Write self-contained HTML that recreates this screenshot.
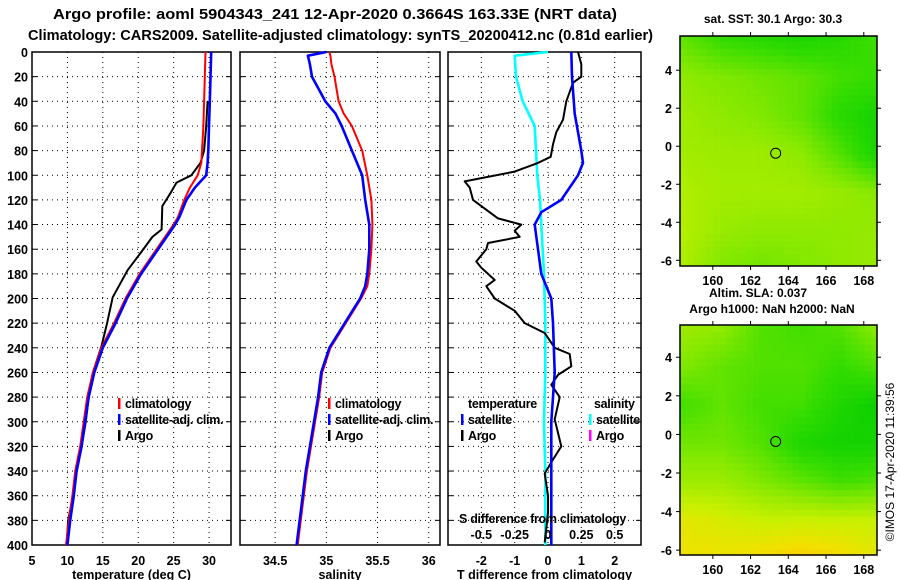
<!DOCTYPE html>
<html><head><meta charset="utf-8">
<style>
html,body{margin:0;padding:0;background:#fff;}
svg{display:block;font-family:"Liberation Sans",Arial,sans-serif;font-weight:bold;}
</style></head>
<body>
<svg id="fig" width="900" height="580" viewBox="0 0 900 580" xmlns="http://www.w3.org/2000/svg">
<text x="53" y="19" font-size="14.5" textLength="564" lengthAdjust="spacingAndGlyphs">Argo profile: aoml 5904343_241 12-Apr-2020 0.3664S 163.33E (NRT data)</text>
<text x="28" y="40" font-size="14.5" textLength="625" lengthAdjust="spacingAndGlyphs">Climatology: CARS2009. Satellite-adjusted climatology: synTS_20200412.nc (0.81d earlier)</text>
<g id="p1"></g>
<g id="p2"></g>
<g id="p3"></g>
<g id="m1"></g>
<g id="m2"></g>
<text x="773" y="23" font-size="12" text-anchor="middle">sat. SST: 30.1 Argo: 30.3</text>
<text x="758" y="297" font-size="12" text-anchor="middle">Altim. SLA: 0.037</text>
<text x="772" y="313" font-size="12" text-anchor="middle">Argo h1000: NaN h2000: NaN</text>
<text transform="translate(894,462) rotate(-90)" font-size="12" font-weight="normal" text-anchor="middle">©IMOS 17-Apr-2020 11:39:56</text>
</svg>
<script>
// ---- data ----
const tClimDepth=[0,20,40,60,80,90,100,110,120,134,140,160,180,200,220,240,260,280,300,320,340,360,380,400];
const tClim=[29.5,29.4,29.3,29.2,29.0,28.9,28.4,27.3,26.5,25.6,25.0,22.6,20.2,18.2,16.6,14.8,13.6,12.8,12.3,11.8,11.1,10.7,10.2,9.8];
const tSat=[30.3,30.2,30.1,30.0,29.9,29.8,29.6,28.0,26.8,25.8,25.2,22.8,20.4,18.4,16.8,15.0,13.8,13.0,12.5,12.0,11.3,10.9,10.4,10.0];
const tArgoDepth=[40,60,80,90,100,106,115,125,144,150,161,177,199,220,239,260,280,300,320,340,360,380,400];
const tArgo=[29.8,29.6,29.3,28.8,27.5,25.4,24.5,23.4,23.3,22.0,20.6,18.5,16.4,15.6,14.8,13.6,13.0,12.6,12.0,11.2,10.8,10.1,9.9];
const sDepth=[0,3,10,20,40,50,60,80,100,120,140,160,180,190,200,220,240,260,280,300,340,400];
const sClim=[35.03,35.04,35.05,35.08,35.12,35.17,35.25,35.35,35.40,35.44,35.45,35.44,35.42,35.40,35.34,35.19,35.04,34.96,34.93,34.89,34.81,34.72];
const sSat=[35.0,34.82,34.84,34.86,34.99,35.09,35.15,35.25,35.35,35.38,35.42,35.42,35.40,35.38,35.33,35.18,35.03,34.95,34.92,34.88,34.80,34.71];
const dArgoDepth=[0,10,20,25,40,55,65,75,85,90,97,105,110,120,125,135,140,145,150,155,160,170,175,185,190,200,210,220,228,240,245,255,262,270,280,298,320,331,342,360,374,398];
const dArgoT=[0.9,1.0,1.0,0.75,0.55,0.45,0.25,0.15,0.08,-0.3,-1.0,-2.5,-2.35,-2.25,-2.0,-1.5,-0.8,-1.0,-0.85,-1.8,-1.85,-2.15,-2.0,-1.6,-1.85,-1.6,-1.0,-0.7,-0.1,0.2,0.65,0.7,0.3,0.1,0.35,0.2,0.4,0.14,-0.1,0.0,0.0,-0.1];
const dSatDepth=[0,20,50,80,90,100,120,130,140,160,180,200,220,260,300,340,400];
const dSatT=[0.7,0.72,0.8,1.0,1.05,0.9,0.4,-0.2,-0.4,-0.3,-0.2,0.1,0.15,0.2,0.1,0.1,0.1];
const dSatSDepth=[0,3,20,40,60,80,100,120,140,180,220,260,300,340,400];
const dSatS=[0,-0.25,-0.24,-0.19,-0.1,-0.09,-0.08,-0.06,-0.05,-0.03,-0.02,-0.02,-0.03,-0.02,-0.02];
const depthTicks=[0,20,40,60,80,100,120,140,160,180,200,220,240,260,280,300,320,340,360,380,400];
const tTicks=[5,10,15,20,25,30];
const sTicks=[34.5,35,35.5,36];
const dTicks=[-2,-1,0,1,2];
const dTickLabels=["-2","-1","0","1","2"];
const sDiffTicks=[-0.5,-0.25,0,0.25,0.5];
const sDiffLabels=["-0.5","-0.25","0","0.25","0.5"];
const lonTicks=[160,162,164,166,168];
const latTicks=[4,2,0,-2,-4,-6];
const sstField=[[0.4,0.25,0.2,0.15,0.2,0.3],[0.55,0.5,0.45,0.4,0.3,0.25],[0.6,0.55,0.5,0.4,0.2,0.1],[0.62,0.6,0.6,0.55,0.35,0.1],[0.66,0.62,0.62,0.62,0.58,0.52],[0.68,0.58,0.55,0.55,0.55,0.58],[0.65,0.5,0.45,0.5,0.55,0.58]];
const slaField=[[0.6,0.55,0.35,0.3,0.35,0.55],[0.5,0.4,0.35,0.35,0.25,0.35],[0.3,0.4,0.3,0.3,0.15,0.05],[0.45,0.45,0.35,0.15,0.1,0.1],[0.6,0.6,0.5,0.4,0.3,0.35],[0.85,0.8,0.75,0.75,0.75,0.75],[0.9,0.9,0.95,1.0,0.95,0.85]];
const profileLon=[163.33];
const profileLat=[-0.3664];

const NS="http://www.w3.org/2000/svg";
function mk(tag,attrs,parent){const e=document.createElementNS(NS,tag);for(const k in attrs)e.setAttribute(k,attrs[k]);parent.appendChild(e);return e;}
const Y0=52,Y1=545;
const yD=d=>Y0+d*(Y1-Y0)/400;

function panel(g,x0,x1,v0,v1,xt,xtl,title,showY){
  const xs=v=>x0+(v-v0)*(x1-x0)/(v1-v0);
  depthTicks.forEach((d,i)=>{
    if(i>0&&i<depthTicks.length-1){const l=mk('line',{x1:x0,x2:x1,y1:yD(d),y2:yD(d),stroke:'#000','stroke-width':1,'stroke-dasharray':'1,4'},g);}
    const t1=mk('line',{x1:x0,x2:x0+5,y1:yD(d),y2:yD(d),stroke:'#000'},g);
    const t2=mk('line',{x1:x1-5,x2:x1,y1:yD(d),y2:yD(d),stroke:'#000'},g);
    if(showY){const tx=mk('text',{x:x0-4,y:yD(d)+5,'font-size':12.5,'text-anchor':'end'},g);tx.textContent=d;}
  });
  xt.forEach((v,i)=>{
    const l=mk('line',{x1:xs(v),x2:xs(v),y1:Y0,y2:Y1,stroke:'#000','stroke-width':1,'stroke-dasharray':'1,4'},g);
    const tx=mk('text',{x:xs(v),y:565,'font-size':12.5,'text-anchor':'middle'},g);tx.textContent=xtl[i];
  });
  const r=mk('rect',{x:x0,y:Y0,width:x1-x0,height:Y1-Y0,fill:'none',stroke:'#000','stroke-width':1.5},g);
  const tt=mk('text',{x:(x0+x1)/2,y:579,'font-size':12.5,'text-anchor':'middle'},g);tt.textContent=title;
  return xs;
}
function line(g,xs,vals,depths,color,w,name){
  const pts=vals.map((v,i)=>xs(v).toFixed(1)+','+yD(depths[i]).toFixed(1)).join(' ');
  const p=mk('polyline',{points:pts,fill:'none',stroke:color,'stroke-width':w,'stroke-linejoin':'round'},g);
  
}
function legend(g,x,y,color,label,name){
  const m=mk('rect',{x:x,y:y-10,width:2.5,height:11,fill:color},g);
  const t=mk('text',{x:x+7,y:y,'font-size':12.5,'letter-spacing':'-0.3'},g);t.textContent=label;
}
// panel 1
const g1=document.getElementById('p1');
const xs1=panel(g1,32,231,5,33.1,tTicks,tTicks.map(String),'temperature (deg C)',true);
line(g1,xs1,tArgo,tArgoDepth,'#000',2,'argo-temperature-line');
line(g1,xs1,tClim,tClimDepth,'#f00',2,'climatology-temperature-line');
line(g1,xs1,tSat,tClimDepth,'#00f',2.6,'satellite-temperature-line');
legend(g1,118,408,'#f00','climatology','legend-climatology');
legend(g1,118,424,'#00f','satellite-adj. clim.','legend-satellite');
legend(g1,118,440,'#000','Argo','legend-argo');
// panel 2
const g2=document.getElementById('p2');
const xs2=panel(g2,240,440,34.157,36.11,sTicks,sTicks.map(String),'salinity',false);
line(g2,xs2,sClim,sDepth,'#f00',2,'climatology-salinity-line');
line(g2,xs2,sSat,sDepth,'#00f',2.6,'satellite-salinity-line');
legend(g2,328,408,'#f00','climatology','legend-climatology');
legend(g2,328,424,'#00f','satellite-adj. clim.','legend-satellite');
legend(g2,328,440,'#000','Argo','legend-argo');
// panel 3
const g3=document.getElementById('p3');
const xs3=panel(g3,448,641,-3.0,2.79,dTicks,dTickLabels,'T difference from climatology',false);
line(g3,xs3,dSatS.map(s=>s*4),dSatSDepth,'#0ff',2.6,'satellite-salinity-diff-line');
line(g3,xs3,dArgoT,dArgoDepth,'#000',2,'argo-temperature-diff-line');
line(g3,xs3,dSatT,dSatDepth,'#00f',2.6,'satellite-temperature-diff-line');
(function(){const t=mk('text',{x:468,y:408,'font-size':12.5,'letter-spacing':'-0.3'},g3);t.textContent='temperature';
const t2=mk('text',{x:594,y:408,'font-size':12.5,'letter-spacing':'-0.3'},g3);t2.textContent='salinity';
const t3=mk('text',{x:459,y:523,'font-size':12.5,'letter-spacing':'-0.3'},g3);t3.textContent='S difference from climatology';})();
legend(g3,461,424,'#00f','satellite','legend-t-satellite');
legend(g3,461,440,'#000','Argo','legend-t-argo');
legend(g3,589,424,'#0ff','satellite','legend-s-satellite');
legend(g3,589,440,'#f0f','Argo','legend-s-argo');
sDiffTicks.forEach((v,i)=>{const t=mk('text',{x:xs3(v*4),y:539,'font-size':12.5,'text-anchor':'middle'},g3);t.textContent=sDiffLabels[i];});

// maps
const stops=[[0,[0,204,0]],[0.25,[50,220,0]],[0.5,[128,232,0]],[0.75,[200,240,0]],[0.9,[240,226,0]],[1,[255,204,0]]];
function col(v){v=Math.max(0,Math.min(1,v));for(let i=1;i<stops.length;i++){if(v<=stops[i][0]){const a=stops[i-1],b=stops[i];const f=(v-a[0])/(b[0]-a[0]);return 'rgb('+a[1].map((c,k)=>Math.round(c+(b[1][k]-c)*f)).join(',')+')';}}return 'rgb(255,204,0)';}
function drawMap(g,x0,x1,y0,y1,lat0,lat1,field,cell){
  const lon0=158.26,lon1=168.7;
  const xm=lon=>x0+(lon-lon0)*(x1-x0)/(lon1-lon0);
  const ym=lat=>y0+(lat0-lat)*(y1-y0)/(lat0-lat1);
  const R=field.length,C=field[0].length;
  for(let y=y0;y<y1;y+=cell){for(let x=x0;x<x1;x+=cell){
    const fx=(x-x0)/(x1-x0)*(C-1),fy=(y-y0)/(y1-y0)*(R-1);
    const i=Math.min(R-2,Math.floor(fy)),j=Math.min(C-2,Math.floor(fx));const u=fx-j,w=fy-i;
    const v=field[i][j]*(1-u)*(1-w)+field[i][j+1]*u*(1-w)+field[i+1][j]*(1-u)*w+field[i+1][j+1]*u*w;
    const r=mk('rect',{x:x,y:y,width:Math.min(cell,x1-x)+0.3,height:Math.min(cell,y1-y)+0.3,fill:col(v)},g);
    
  }}
  const f=mk('rect',{x:x0,y:y0,width:x1-x0,height:y1-y0,fill:'none',stroke:'#000','stroke-width':1.5},g);
  lonTicks.forEach(lon=>{
    mk('line',{x1:xm(lon),x2:xm(lon),y1:y0-4,y2:y0,stroke:'#000'},g);
    mk('line',{x1:xm(lon),x2:xm(lon),y1:y1,y2:y1+4,stroke:'#000'},g);
    const t=mk('text',{x:xm(lon),y:y1+19,'font-size':12.5,'text-anchor':'middle'},g);t.textContent=lon;
  });
  latTicks.forEach(lat=>{
    mk('line',{x1:x0-4,x2:x0,y1:ym(lat),y2:ym(lat),stroke:'#000'},g);
    mk('line',{x1:x1,x2:x1+4,y1:ym(lat),y2:ym(lat),stroke:'#000'},g);
    const t=mk('text',{x:x0-8,y:ym(lat)+5,'font-size':12.5,'text-anchor':'end'},g);t.textContent=lat;
  });
  const c=mk('circle',{cx:xm(profileLon[0]),cy:ym(profileLat[0]),r:5,fill:'none',stroke:'#000','stroke-width':1},g);
  
}
drawMap(document.getElementById('m1'),680,877,36,266,5.8,-6.3,sstField,6.6);
drawMap(document.getElementById('m2'),680,877,325,555,5.67,-6.25,slaField,6.6);
</script>
</body></html>
